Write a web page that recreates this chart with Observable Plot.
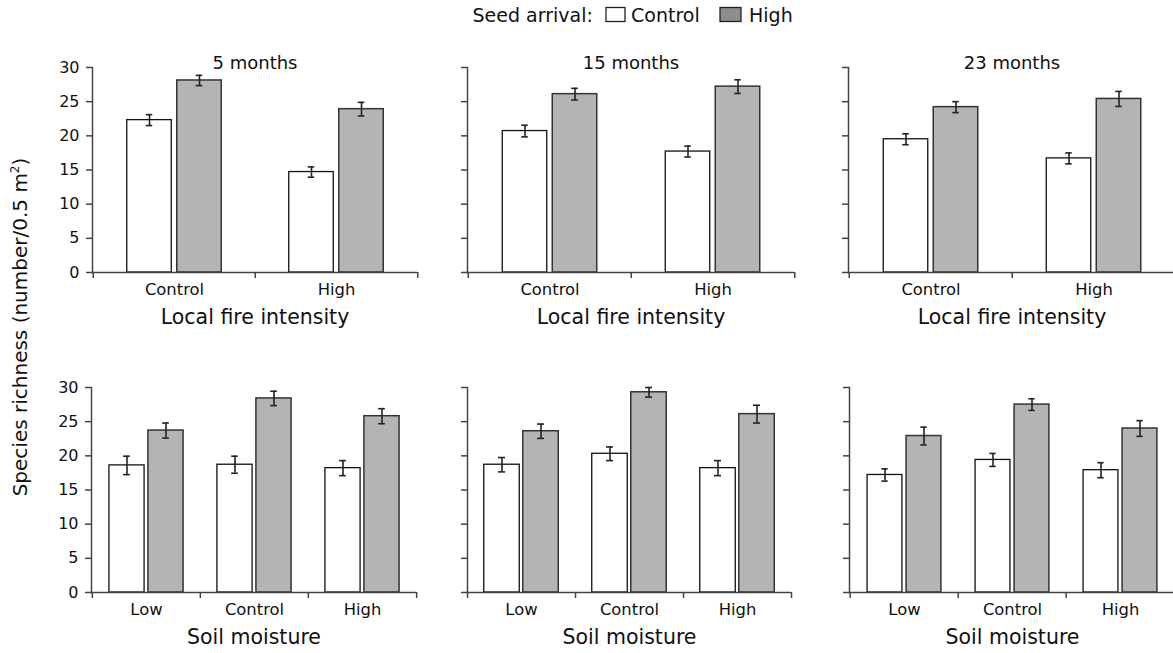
<!DOCTYPE html>
<html><head><meta charset="utf-8">
<script src="https://cdn.jsdelivr.net/npm/d3@7"></script>
<script src="https://cdn.jsdelivr.net/npm/@observablehq/plot@0.6"></script>
<style>
body{margin:0;background:#fff;}
#wrap{position:relative;width:1173px;height:653px;overflow:hidden;background:#fff;font-family:"DejaVu Sans",sans-serif;color:#111;}
#wrap > svg, #wrap > .panel{position:absolute;}
</style></head><body><div id="wrap"></div>
<script>
// ---- data ----
const seedLevels = ["Control", "High"];
const fireLevels = ["Control", "High"];
const moistureLevels = ["Low", "Control", "High"];
const panelTitles = ["5 months", "15 months", "23 months"];
const yTicks = [0, 5, 10, 15, 20, 25, 30];
const yTitle = "Species richness (number/0.5 m";
const fireLabel = "Local fire intensity";
const moistureLabel = "Soil moisture";

// top row: local fire intensity  [panel][fire level]
const fireCtrlSeed   = [[22.3, 14.7], [20.7, 17.7], [19.5, 16.7]];
const fireHighSeed   = [[28.1, 23.9], [26.1, 27.2], [24.2, 25.4]];
const fireCtrlSeedSE = [[0.8, 0.75], [0.85, 0.8], [0.8, 0.8]];
const fireHighSeedSE = [[0.75, 1.0], [0.85, 1.0], [0.8, 1.1]];
// bottom row: soil moisture  [panel][moisture level]
const moistCtrlSeed   = [[18.6, 18.7, 18.2], [18.7, 20.3, 18.2], [17.2, 19.4, 17.9]];
const moistHighSeed   = [[23.7, 28.4, 25.8], [23.6, 29.3, 26.1], [22.9, 27.5, 24.0]];
const moistCtrlSeedSE = [[1.35, 1.25, 1.1], [1.05, 1.0, 1.1], [0.9, 0.95, 1.1]];
const moistHighSeedSE = [[1.1, 1.05, 1.1], [1.05, 0.7, 1.3], [1.3, 0.85, 1.15]];

const FONT = "DejaVu Sans";
const wrap = document.getElementById("wrap");

function panel(o) {
  const rows = o.cats.flatMap((c, i) => [
    {cat: c, seed: seedLevels[0], v: o.ctrl[i], se: o.ctrlSE[i]},
    {cat: c, seed: seedLevels[1], v: o.high[i], se: o.highSE[i]}
  ]);
  const cRows = rows.filter(d => d.seed === seedLevels[0]);
  const hRows = rows.filter(d => d.seed === seedLevels[1]);
  const bw = (o.width - o.ml - o.mr) / o.cats.length;
  const off = o.gap / 2 + o.barW / 2;
  const capW = 7;
  const errStyle = {stroke: "#222", strokeWidth: 1.6};
  const axisColor = "#444";
  const chart = Plot.plot({
    width: o.width, height: o.height,
    marginLeft: o.ml, marginRight: o.mr, marginTop: o.mt, marginBottom: o.mb,
    style: {fontFamily: FONT, fontSize: "16px", color: "#111", background: "transparent", overflow: "visible"},
    x: {domain: o.cats, padding: 0, label: null},
    y: {domain: [0, 30], label: null},
    marks: [
      Plot.barY(cRows, {x: "cat", y: "v", fill: "white", stroke: "#111", strokeWidth: 1.3,
        insetLeft: bw / 2 - o.gap / 2 - o.barW, insetRight: bw / 2 + o.gap / 2}),
      Plot.barY(hRows, {x: "cat", y: "v", fill: "#b4b4b4", stroke: "#333", strokeWidth: 1.5,
        insetLeft: bw / 2 + o.gap / 2, insetRight: bw / 2 - o.gap / 2 - o.barW}),
      Plot.ruleX(cRows, {x: "cat", y1: d => d.v - d.se, y2: d => d.v + d.se, dx: -off, ...errStyle}),
      Plot.ruleX(hRows, {x: "cat", y1: d => d.v - d.se, y2: d => d.v + d.se, dx: off, ...errStyle}),
      ...[cRows, hRows].flatMap((r, k) => ["lo", "hi"].map(end =>
        Plot.tickY(r, {x: "cat", y: d => end === "hi" ? d.v + d.se : d.v - d.se,
          dx: k === 0 ? -off : off, insetLeft: bw / 2 - capW / 2, insetRight: bw / 2 - capW / 2, ...errStyle}))),
      Plot.ruleY([0], {stroke: axisColor, strokeWidth: 1.5}),
      Plot.frame({anchor: "left", stroke: axisColor, strokeWidth: 1.5}),
      Plot.axisY(yTicks, {tickSize: 6, tickPadding: 7, fontSize: 16, stroke: axisColor, strokeWidth: 1.5,
        tickFormat: o.showY ? (d => String(d)) : (() => ""), label: null}),
      Plot.axisX({tickSize: 6, stroke: axisColor, strokeWidth: 1.5, dx: -bw / 2, tickFormat: () => "", label: null}),
      Plot.axisX([o.cats[o.cats.length - 1]], {tickSize: 6, stroke: axisColor, strokeWidth: 1.5, dx: bw / 2, tickFormat: () => "", label: null}),
      Plot.axisX({tickSize: 0, tickPadding: 11, fontSize: 16.4, label: null}),
      Plot.text([o.xlabel], {frameAnchor: "bottom", dy: 51, fontSize: 20.5, fill: "#111"}),
      ...(o.title ? [Plot.text([o.title], {frameAnchor: "top", lineAnchor: "bottom", dy: 1.5, fontSize: 18, fill: "#111"})] : [])
    ]
  });
  chart.style.position = "absolute";
  chart.style.left = o.left + "px";
  chart.style.top = o.top + "px";
  wrap.appendChild(chart);
}

const topCols = [
  {left: 0, width: 430, ml: 92, mr: 13},
  {left: 430, width: 375, ml: 37, mr: 11},
  {left: 810, width: 380, ml: 38, mr: 15}
];
const botCols = [
  {left: 0, width: 430, ml: 91, mr: 14},
  {left: 430, width: 375, ml: 37, mr: 14},
  {left: 810, width: 380, ml: 39, mr: 15}
];

for (let p = 0; p < 3; p++) {
  panel({...topCols[p], top: 40, height: 332, mt: 27, mb: 100,
    cats: fireLevels, ctrl: fireCtrlSeed[p], high: fireHighSeed[p],
    ctrlSE: fireCtrlSeedSE[p], highSE: fireHighSeedSE[p],
    title: panelTitles[p], xlabel: fireLabel, showY: p === 0, barW: 45, gap: 5});
  panel({...botCols[p], top: 372, height: 281, mt: 15, mb: 61,
    cats: moistureLevels, ctrl: moistCtrlSeed[p], high: moistHighSeed[p],
    ctrlSE: moistCtrlSeedSE[p], highSE: moistHighSeedSE[p],
    title: null, xlabel: moistureLabel, showY: p === 0, barW: 35.5, gap: 3.5});
}

// legend and shared y title
const NS = "http://www.w3.org/2000/svg";
function el(name, attrs, parent) {
  const e = document.createElementNS(NS, name);
  for (const k in attrs) e.setAttribute(k, attrs[k]);
  parent.appendChild(e);
  return e;
}
const over = el("svg", {width: 1173, height: 653, style: "position:absolute;left:0;top:0;pointer-events:none"}, wrap);
over.style.fontFamily = FONT;
const lg = el("g", {"font-size": 19, fill: "#111"}, over);
el("text", {x: 472.5, y: 21.5}, lg).textContent = "Seed arrival:";
el("rect", {x: 606, y: 7.5, width: 19, height: 14, fill: "white", stroke: "#222", "stroke-width": 1.3}, lg);
el("text", {x: 631, y: 21.5}, lg).textContent = seedLevels[0];
el("rect", {x: 720, y: 7.5, width: 21, height: 14, fill: "#8e8e8e", stroke: "#222", "stroke-width": 1.3}, lg);
el("text", {x: 749, y: 21.5}, lg).textContent = seedLevels[1];

const yt = el("text", {x: 0, y: 0, transform: "translate(27,327) rotate(-90)", "text-anchor": "middle", "font-size": 20, fill: "#111"}, over);
yt.textContent = yTitle;
const sup = el("tspan", {"font-size": 12, dy: -8}, yt);
sup.textContent = "2";
const cl = el("tspan", {dy: 8}, yt);
cl.textContent = ")";
</script>
</body></html>
